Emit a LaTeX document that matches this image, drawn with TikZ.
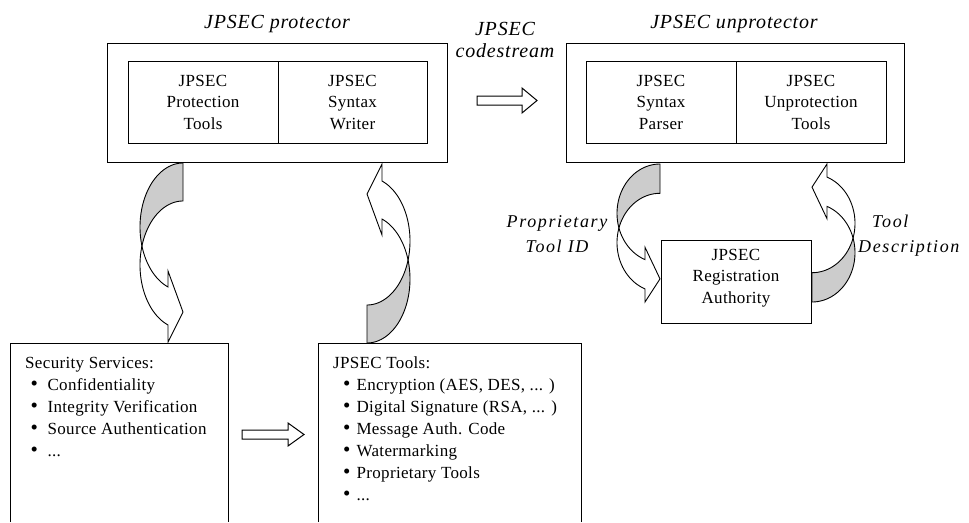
\documentclass[tikz,border=0pt]{standalone}
\usepackage{fontspec}
\setmainfont{Liberation Serif}
\newfontfamily\bodyfont[LetterSpace=2]{Liberation Serif}
\newfontfamily\ttlfont[LetterSpace=4]{Liberation Serif}
\newfontfamily\lblfont[LetterSpace=9]{Liberation Serif}
\definecolor{shade}{RGB}{204,204,204}
\newcommand{\jpbul}{{\fontsize{21}{21}\selectfont\textbullet}}
\newcommand{\jpcurve}{%
  \filldraw[arrowline, fill=shade]
    plot[domain=270:162.73, samples=40] ({43*cos(\x)},{64+64*sin(\x)})
    -- plot[domain=197.27:270, samples=40] ({43*cos(\x)},{102+64*sin(\x)})
    -- cycle;
  \filldraw[arrowline, fill=white]
    plot[domain=197.27:110.42, samples=40] ({43*cos(\x)},{102+64*sin(\x)})
    -- (-15,179) -- (0,149) -- (-15,108)
    -- plot[domain=110.42:162.73, samples=40] ({43*cos(\x)},{64+64*sin(\x)})
    -- cycle;
}
\tikzset{
  boxline/.style={draw=black, line width=1pt},
  arrowline/.style={draw=black, line width=0.9pt, line join=miter},
  outerbox/.style={boxline, inner sep=0pt},
  inbox/.style={boxline, minimum height=82pt, inner sep=0pt, align=center,
    font={\bodyfont\fontsize{17}{21.5}\selectfont}},
  ttl/.style={inner sep=0pt, font={\ttlfont\itshape\fontsize{20}{22}\selectfont}},
  lbl/.style={inner sep=0pt, font={\lblfont\itshape\fontsize{18}{25}\selectfont}},
  listtext/.style={inner sep=0pt, align=left, font={\bodyfont\fontsize{17}{22}\selectfont}},
  blockarrow/.style={boxline, fill=white, line join=miter}
}
\begin{document}
\begin{tikzpicture}[x=1pt,y=-1pt]
\useasboundingbox[fill=white] (0,0) rectangle (969,522);

% protector
\node[ttl, anchor=base] (tprot) at (277,28) {JPSEC protector};
\node[outerbox, minimum width=340pt, minimum height=119pt] (prot) at (277,102.5) {};
\node[inbox, minimum width=150pt] (ptools) at (203,102) {JPSEC\\Protection\\Tools};
\node[inbox, minimum width=149pt] (swriter) at (352.5,102) {JPSEC\\Syntax\\Writer};

% unprotector
\node[ttl, anchor=base] (tunprot) at (734,28) {JPSEC unprotector};
\node[outerbox, minimum width=338pt, minimum height=119pt] (unprot) at (735,102.5) {};
\node[inbox, minimum width=150pt] (sparser) at (661,102) {JPSEC\\Syntax\\Parser};
\node[inbox, minimum width=150pt] (utools) at (811,102) {JPSEC\\Unprotection\\Tools};

% codestream
\node[ttl, align=center, anchor=base] (cs) at (505,57) {JPSEC\\codestream};
\draw[blockarrow] (477,96) -- (522,96) -- (522,88) -- (537,100.5) -- (522,113) -- (522,105) -- (477,105) -- cycle;

% registration authority
\node[boxline, minimum width=150pt, minimum height=83pt, inner sep=0pt] (ra) at (736,281.5) {};
\node[inbox, draw=none, minimum height=0pt, anchor=base] (ratext) at (736,303) {JPSEC\\Registration\\Authority};

% side labels
\node[lbl, align=center, anchor=base] (ptid) at (557,252) {Proprietary\\Tool ID};
\node[lbl, align=left, anchor=base west] (tdesc) at (858,252) {\hspace*{14pt}Tool\\Description};

% bottom boxes
\draw[boxline] (10,522) -- (10,343) -- (228,343) -- (228,522);
\node[listtext, anchor=base west] (secsvc) at (25,456) {Security Services:\\
\hspace*{5.5pt}\jpbul\hspace{9.5pt}Confidentiality\\
\hspace*{5.5pt}\jpbul\hspace{9.5pt}Integrity Verification\\
\hspace*{5.5pt}\jpbul\hspace{9.5pt}Source Authentication\\
\hspace*{5.5pt}\jpbul\hspace{9.5pt}...};

\draw[boxline] (318,522) -- (318,343) -- (581,343) -- (581,522);
\node[listtext, anchor=base west] (jtools) at (333,500) {JPSEC Tools:\\
\hspace*{10pt}\jpbul\hspace{6pt}Encryption (AES, DES, ... )\\
\hspace*{10pt}\jpbul\hspace{6pt}Digital Signature (RSA, ... )\\
\hspace*{10pt}\jpbul\hspace{6pt}Message Auth. Code\\
\hspace*{10pt}\jpbul\hspace{6pt}Watermarking\\
\hspace*{10pt}\jpbul\hspace{6pt}Proprietary Tools\\
\hspace*{10pt}\jpbul\hspace{6pt}...};

\draw[blockarrow] (242,430) -- (288,430) -- (288,423) -- (304,434.5) -- (288,446) -- (288,439) -- (242,439) -- cycle;

% curved arrows
\begin{scope}[shift={(183,163)}]
  \jpcurve
\end{scope}
\begin{scope}[shift={(367,343)}, xscale=-1, yscale=-1]
  \jpcurve
\end{scope}
\begin{scope}[shift={(660,164)}, yscale=0.771]
  \jpcurve
\end{scope}
\begin{scope}[shift={(812,302)}, xscale=-1, yscale=-0.771]
  \jpcurve
\end{scope}
\end{tikzpicture}
\end{document}
